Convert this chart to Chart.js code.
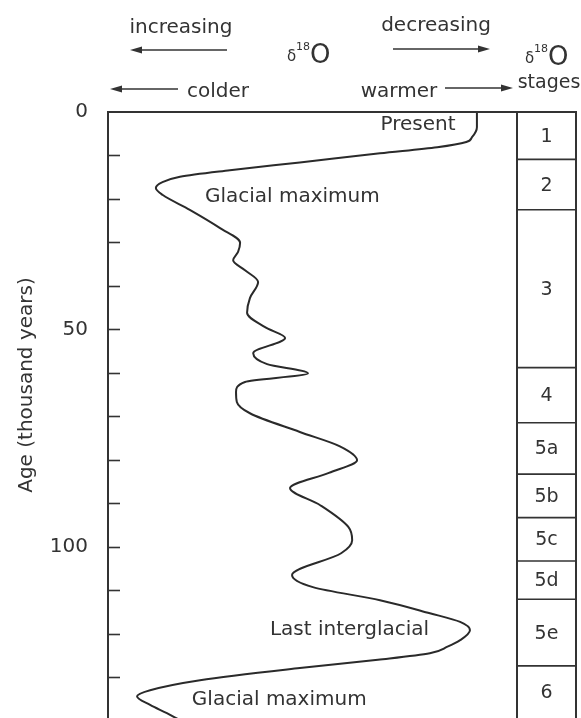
<!DOCTYPE html>
<html lang="en">

<head>
    <meta charset="UTF-8">
    <title>Oxygen isotope stages</title>
    <script src="https://cdn.jsdelivr.net/npm/chart.js"></script>
    <style>
        html,
        body {
            margin: 0;
            padding: 0;
            background: #fff;
        }
    </style>
</head>

<body>

    <canvas id="chartCanvas" width="581" height="718"></canvas>

</body>

<script>
    // age in thousand years (top = present)
    const ages = [0, 3.5, 5.8, 6.9, 8.1, 9.5, 11.6, 13.4, 14.9, 16.2, 17.5, 19.1, 22.5, 26.7, 30.1, 32.2, 34.1,
        36.4, 39.1, 42.8, 46.2, 49.5, 52.0, 55.5, 58.0, 60.1, 62.1, 64.4, 66.7, 69.3, 73.6, 76.9, 80.1,
        83.0, 86.5, 90.4, 95.5, 98.5, 101.5, 106.5, 109.3, 112.3, 115.3, 117.3, 119.2, 121.5, 123.0, 124.5,
        126.0, 127.9, 130.7, 133.0, 134.4, 136.4, 138.3, 139.9];

    // relative d18O position, 0 = colder (left), 100 = warmer (right)
    const d18O = [90.2, 90.2, 89.0, 87.6, 80.5, 66.5, 46.9, 29.8, 17.6, 13.2, 11.7, 13.4, 20.0, 27.4, 32.3, 31.8, 30.6,
        33.5, 36.7, 34.7, 34.0, 38.4, 43.3, 35.5, 38.9, 48.9, 33.5, 31.3, 31.5, 34.7, 46.9, 56.7, 60.9,
        54.0, 44.5, 51.8, 58.8, 59.7, 57.0, 45.0, 50.1, 66.5, 78.7, 86.1, 88.5, 86.1, 83.0, 78.7,
        66.0, 46.9, 22.5, 10.3, 7.1, 10.3, 14.4, 17.6];

    // age axis ticks, labelled every 50
    const ageTicks = [0, 10, 20, 30, 40, 50, 60, 70, 80, 90, 100, 110, 120, 130];
    const ageLabels = [0, 50, 100];

    // isotope stages and their boundaries (thousand years)
    const stageNames = ['1', '2', '3', '4', '5a', '5b', '5c', '5d', '5e', '6'];
    const stageBounds = [0, 10.9, 22.5, 58.8, 71.5, 83.3, 93.3, 103.3, 112.1, 127.4, 140];

    // notes written inside the plot
    const noteText = ['Present', 'Glacial maximum', 'Last interglacial', 'Glacial maximum'];
    const noteX = [75.8, 23.7, 39.6, 20.5];
    const noteAge = [3.0, 19.6, 119.2, 135.3];
    const noteAlign = ['center', 'left', 'left', 'left'];

    const ink = '#333333';
    const family = '"DejaVu Sans", sans-serif';

    let pontos = [];
    for (let i = 0; i < ages.length; i++) {
        pontos.push({ x: d18O[i], y: ages[i] });
    }

    function seta(ctx, x1, x2, y) {
        // line from x1 to x2 with the head at x2
        const dir = x2 > x1 ? 1 : -1;
        ctx.beginPath();
        ctx.moveTo(x1, y);
        ctx.lineTo(x2 - dir * 8, y);
        ctx.stroke();
        ctx.beginPath();
        ctx.moveTo(x2, y);
        ctx.lineTo(x2 - dir * 12, y - 3.5);
        ctx.lineTo(x2 - dir * 12, y + 3.5);
        ctx.closePath();
        ctx.fill();
    }

    function delta18O(ctx, x, y) {
        // y = baseline of the O
        ctx.textAlign = 'left';
        ctx.textBaseline = 'alphabetic';
        ctx.font = '15px ' + family;
        ctx.fillText('δ', x, y - 1);
        ctx.font = '11px ' + family;
        ctx.fillText('18', x + 9, y - 12);
        ctx.font = '26px ' + family;
        ctx.fillText('O', x + 23, y + 1);
    }

    const desenho = {
        id: 'desenho',
        afterDraw(chart) {
            const ctx = chart.ctx;
            const area = chart.chartArea;
            const yScale = chart.scales.y;
            const xScale = chart.scales.x;
            const stageRight = area.right + 59;

            ctx.save();
            ctx.strokeStyle = ink;
            ctx.fillStyle = ink;
            ctx.lineWidth = 2;

            // frame
            ctx.beginPath();
            ctx.moveTo(area.left, area.bottom);
            ctx.lineTo(area.left, area.top);
            ctx.lineTo(stageRight, area.top);
            ctx.lineTo(stageRight, area.bottom);
            ctx.moveTo(area.right, area.top);
            ctx.lineTo(area.right, area.bottom);
            ctx.stroke();

            // inner tick marks
            ctx.lineWidth = 1.6;
            yScale.ticks.forEach(function (t) {
                if (t.value === 0) return;
                const py = Math.round(yScale.getPixelForValue(t.value)) + 0.5;
                ctx.beginPath();
                ctx.moveTo(area.left, py);
                ctx.lineTo(area.left + 12, py);
                ctx.stroke();
            });

            // stage column
            ctx.font = '19px ' + family;
            ctx.textAlign = 'center';
            ctx.textBaseline = 'middle';
            for (let i = 0; i < stageNames.length; i++) {
                const y1 = yScale.getPixelForValue(stageBounds[i]);
                const y2 = Math.min(yScale.getPixelForValue(stageBounds[i + 1]), area.bottom);
                if (i > 0) {
                    ctx.beginPath();
                    ctx.moveTo(area.right, y1);
                    ctx.lineTo(stageRight, y1);
                    ctx.stroke();
                }
                ctx.fillText(stageNames[i], (area.right + stageRight) / 2, (y1 + y2) / 2 + 1);
            }

            // notes inside the plot
            ctx.font = '20px ' + family;
            for (let i = 0; i < noteText.length; i++) {
                ctx.textAlign = noteAlign[i];
                ctx.fillText(noteText[i], xScale.getPixelForValue(noteX[i]), yScale.getPixelForValue(noteAge[i]));
            }

            // header
            ctx.font = '20px ' + family;
            ctx.textBaseline = 'alphabetic';
            ctx.textAlign = 'center';
            ctx.fillText('increasing', 181, 33);
            ctx.fillText('decreasing', 436, 31);
            ctx.fillText('colder', 218, 97);
            ctx.fillText('warmer', 399, 97);
            ctx.font = '19px ' + family;
            ctx.fillText('stages', 549, 88);
            ctx.lineWidth = 1.6;
            seta(ctx, 227, 130, 50);
            seta(ctx, 393, 490, 49);
            seta(ctx, 178, 110, 89);
            seta(ctx, 445, 513, 88);
            delta18O(ctx, 287, 62);
            delta18O(ctx, 525, 64);

            // axis title
            ctx.font = '20px ' + family;
            ctx.textAlign = 'center';
            ctx.textBaseline = 'middle';
            ctx.translate(27, 385);
            ctx.rotate(-Math.PI / 2);
            ctx.fillText('Age (thousand years)', 0, 0);

            ctx.restore();
        }
    };

    const config = {
        type: 'scatter',
        data: {
            datasets: [{
                data: pontos,
                indexAxis: 'y',
                showLine: true,
                borderColor: '#2a2a2a',
                borderWidth: 2,
                pointRadius: 0,
                cubicInterpolationMode: 'monotone',
                fill: false
            }]
        },
        options: {
            responsive: false,
            animation: false,
            layout: { padding: { top: 112, right: 64, bottom: 0, left: 0 } },
            plugins: {
                legend: { display: false },
                tooltip: { enabled: false }
            },
            scales: {
                x: { type: 'linear', min: 0, max: 100, display: false },
                y: {
                    type: 'linear',
                    reverse: true,
                    min: 0,
                    max: 139.4,
                    grid: { display: false, drawTicks: false },
                    border: { display: false },
                    afterBuildTicks: function (scale) {
                        scale.ticks = ageTicks.map(function (v) { return { value: v }; });
                    },
                    ticks: {
                        autoSkip: false,
                        padding: 20,
                        color: ink,
                        font: { family: family, size: 20 },
                        callback: function (v) { return ageLabels.includes(v) ? String(v) : ''; }
                    },
                    afterFit: function (scale) {
                        scale.width = 108;
                        scale.paddingTop = 0;
                        scale.paddingBottom = 0;
                    }
                }
            }
        },
        plugins: [desenho]
    };

    let myChart = new Chart(document.getElementById('chartCanvas'), config);
</script>

</html>
